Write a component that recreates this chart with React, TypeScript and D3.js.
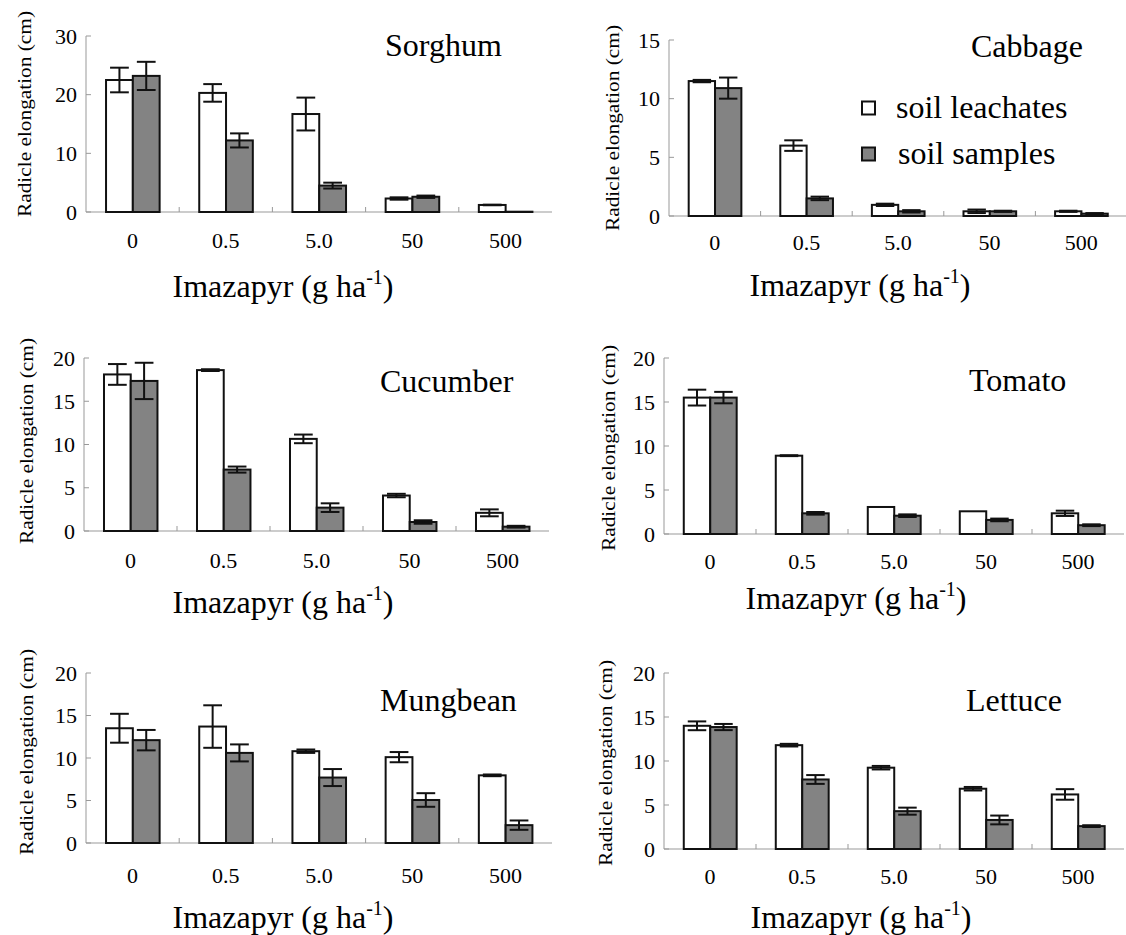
import React from "react";
import * as d3 from "d3";

// dose categories and series
const doses = ["0", "0.5", "5.0", "50", "500"];
const seriesNames = ["soil leachates", "soil samples"];

// values (cm), mean and +/- error
const sorghumLeach = [22.5, 20.3, 16.7, 2.3, 1.2];
const sorghumLeachErr = [2.1, 1.5, 2.8, 0.2, 0.05];
const sorghumSoil = [23.2, 12.2, 4.5, 2.6, 0.05];
const sorghumSoilErr = [2.4, 1.2, 0.5, 0.2, 0];

const cabbageLeach = [11.5, 6.0, 0.95, 0.4, 0.4];
const cabbageLeachErr = [0.1, 0.45, 0.1, 0.15, 0.05];
const cabbageSoil = [10.9, 1.5, 0.4, 0.4, 0.2];
const cabbageSoilErr = [0.9, 0.15, 0.1, 0.05, 0.05];

const cucumberLeach = [18.1, 18.6, 10.65, 4.1, 2.1];
const cucumberLeachErr = [1.2, 0.1, 0.5, 0.2, 0.4];
const cucumberSoil = [17.35, 7.1, 2.7, 1.04, 0.5];
const cucumberSoilErr = [2.1, 0.35, 0.5, 0.2, 0.1];

const tomatoLeach = [15.5, 8.9, 3.07, 2.58, 2.35];
const tomatoLeachErr = [0.9, 0.05, 0, 0, 0.3];
const tomatoSoil = [15.5, 2.35, 2.08, 1.6, 1.0];
const tomatoSoilErr = [0.65, 0.15, 0.15, 0.15, 0.1];

const mungbeanLeach = [13.5, 13.7, 10.8, 10.1, 7.96];
const mungbeanLeachErr = [1.7, 2.5, 0.2, 0.6, 0.1];
const mungbeanSoil = [12.1, 10.6, 7.7, 5.06, 2.1];
const mungbeanSoilErr = [1.2, 1.0, 1.0, 0.8, 0.55];

const lettuceLeach = [14.0, 11.8, 9.24, 6.85, 6.2];
const lettuceLeachErr = [0.5, 0.15, 0.2, 0.2, 0.6];
const lettuceSoil = [13.86, 7.9, 4.3, 3.3, 2.6];
const lettuceSoilErr = [0.35, 0.5, 0.4, 0.5, 0.1];

const ticks30 = [0, 10, 20, 30];
const ticks15 = [0, 5, 10, 15];
const ticks20 = [0, 5, 10, 15, 20];

const font = "'Liberation Serif', 'Times New Roman', serif";
const fills = ["#ffffff", "#838383"];

const panels = [
  { name: "Sorghum", vals: [sorghumLeach, sorghumSoil], errs: [sorghumLeachErr, sorghumSoilErr], ticks: ticks30,
    left: 86, right: 552, top: 36, bottom: 212, titleX: 385, titleY: 56, tickY: 248, labX: 283, labY: 297, ylabX: 24, ylabY: 114 },
  { name: "Cabbage", vals: [cabbageLeach, cabbageSoil], errs: [cabbageLeachErr, cabbageSoilErr], ticks: ticks15,
    left: 669, right: 1127, top: 40, bottom: 216, titleX: 971, titleY: 57, tickY: 250, labX: 860, labY: 296, ylabX: 612, ylabY: 128, legend: true },
  { name: "Cucumber", vals: [cucumberLeach, cucumberSoil], errs: [cucumberLeachErr, cucumberSoilErr], ticks: ticks20,
    left: 84, right: 549, top: 358, bottom: 531, titleX: 380, titleY: 392, tickY: 568, labX: 283, labY: 613, ylabX: 26, ylabY: 441 },
  { name: "Tomato", vals: [tomatoLeach, tomatoSoil], errs: [tomatoLeachErr, tomatoSoilErr], ticks: ticks20,
    left: 664, right: 1124, top: 358, bottom: 534, titleX: 969, titleY: 391, tickY: 569, labX: 856, labY: 609, ylabX: 608, ylabY: 448 },
  { name: "Mungbean", vals: [mungbeanLeach, mungbeanSoil], errs: [mungbeanLeachErr, mungbeanSoilErr], ticks: ticks20,
    left: 86, right: 552, top: 673, bottom: 843, titleX: 380, titleY: 711, tickY: 883, labX: 283, labY: 928, ylabX: 26, ylabY: 752 },
  { name: "Lettuce", vals: [lettuceLeach, lettuceSoil], errs: [lettuceLeachErr, lettuceSoilErr], ticks: ticks20,
    left: 664, right: 1124, top: 673, bottom: 849, titleX: 966, titleY: 711, tickY: 884, labX: 861, labY: 928, ylabX: 605, ylabY: 763 },
];

function Panel({ p }: { p: any }) {
  const x0 = d3.scaleBand<string>().domain(doses).range([p.left, p.right]);
  const bw = x0.bandwidth();
  const x1 = d3.scaleBand<number>().domain([0, 1]).range([bw * 0.215, bw * 0.79]);
  const y = d3.scaleLinear().domain([0, d3.max(p.ticks) as number]).range([p.bottom, p.top]);
  const cap = x1.bandwidth() * 0.35;

  return (
    <g>
      {/* axes, ticks pointing inward */}
      <line x1={p.left} x2={p.left} y1={p.top} y2={p.bottom} stroke="#999" />
      <line x1={p.left} x2={p.right} y1={p.bottom} y2={p.bottom} stroke="#999" />
      {p.ticks.map((t: number) => (
        <g key={t}>
          <line x1={p.left} x2={p.left + 5} y1={y(t)} y2={y(t)} stroke="#999" />
          <text x={p.left - 9} y={y(t)} dy="0.35em" textAnchor="end" fontSize={22}>{t}</text>
        </g>
      ))}
      {doses.slice(1).map((d) => (
        <line key={d} x1={x0(d)} x2={x0(d)} y1={p.bottom} y2={p.bottom - 5} stroke="#999" />
      ))}
      {doses.map((d) => (
        <text key={d} x={(x0(d) as number) + bw / 2} y={p.tickY} textAnchor="middle" fontSize={22}>{d}</text>
      ))}

      {/* bars with error bars */}
      {p.vals.map((vs: number[], si: number) =>
        vs.map((v, i) => {
          const bx = (x0(doses[i]) as number) + (x1(si) as number);
          const cx = bx + x1.bandwidth() / 2;
          const e = p.errs[si][i];
          return (
            <g key={si + "-" + i}>
              <rect x={bx} y={y(v)} width={x1.bandwidth()} height={Math.max(0, y(0) - y(v))}
                fill={fills[si]} stroke="#111" strokeWidth={2} />
              {e > 0 && (
                <g stroke="#111" strokeWidth={2}>
                  <line x1={cx} x2={cx} y1={y(v + e)} y2={y(v - e)} />
                  <line x1={cx - cap} x2={cx + cap} y1={y(v + e)} y2={y(v + e)} />
                  <line x1={cx - cap} x2={cx + cap} y1={y(v - e)} y2={y(v - e)} />
                </g>
              )}
            </g>
          );
        })
      )}

      <text x={p.titleX} y={p.titleY} fontSize={32}>{p.name}</text>

      <text x={p.labX} y={p.labY} textAnchor="middle" fontSize={32}>
        Imazapyr (g ha<tspan dy={-13} fontSize={20}>-1</tspan><tspan dy={13}>)</tspan>
      </text>
      <text transform={`translate(${p.ylabX},${p.ylabY}) rotate(-90)`} textAnchor="middle" dy="0.35em"
        fontSize={19} textLength={206} lengthAdjust="spacingAndGlyphs">
        Radicle elongation (cm)
      </text>

      {p.legend &&
        seriesNames.map((s, i) => (
          <g key={s} transform={`translate(862,${108 + i * 46})`}>
            <rect x={0} y={-6.5} width={13} height={13} fill={fills[i]} stroke="#111" strokeWidth={2} />
            <text x={34 + i * 2} y={0} dy="0.3em" fontSize={32}>{s}</text>
          </g>
        ))}
    </g>
  );
}

export default function App() {
  return (
    <div>
      <style>{`body { margin: 0; }`}</style>
      <svg width={1126} height={935} style={{ display: "block", background: "#fff" }} fontFamily={font} fill="#000">
        {panels.map((p) => (
          <Panel key={p.name} p={p} />
        ))}
      </svg>
    </div>
  );
}
